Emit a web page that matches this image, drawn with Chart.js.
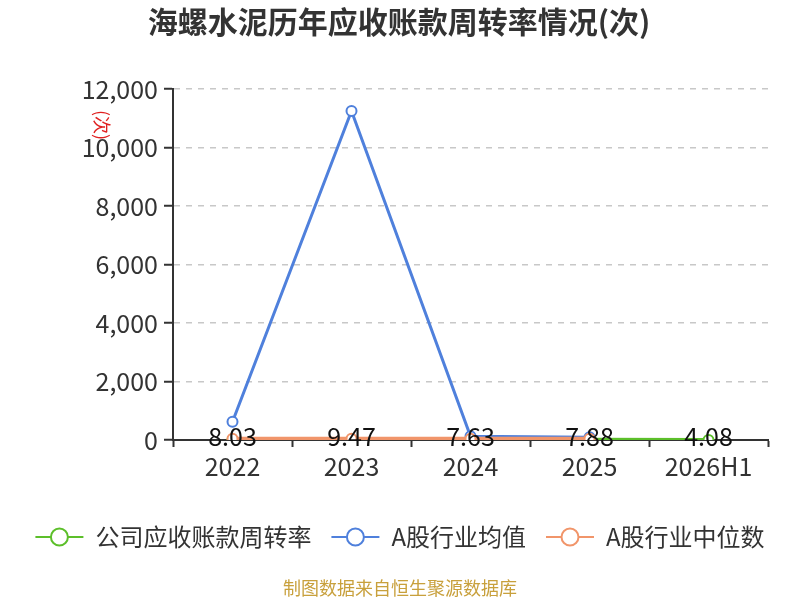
<!DOCTYPE html>
<html>
<head>
<meta charset="utf-8">
<script src="https://cdn.jsdelivr.net/npm/chart.js@4.4.0/dist/chart.umd.min.js"></script>
<style>
  html, body { margin: 0; padding: 0; background: #fff; }
  #wrap { width: 800px; height: 600px; }
</style>
</head>
<body>
<div id="wrap"><canvas id="chart" width="800" height="600"></canvas></div>
<script>
const years = ["2022", "2023", "2024", "2025", "2026H1"];
const companyTurnover = [8.03, 9.47, 7.63, 7.88, 4.08];
const industryAvg = [625, 11250, 130, 95, null];
const industryMedian = [45, 45, 42, 40, null];
const seriesNames = ["公司应收账款周转率", "A股行业均值", "A股行业中位数"];
const seriesColors = ["#5cbf2a", "#4f80dc", "#f1956a"];

const FONT = "'Noto Sans CJK SC', 'Noto Sans', sans-serif";

const decorPlugin = {
    id: "decor",
    afterDatasetsDraw(chart) {
        // value labels for the company series
        const ctx = chart.ctx;
        const meta = chart.getDatasetMeta(0);
        ctx.save();
        ctx.font = "25px " + FONT;
        ctx.fillStyle = "#111";
        ctx.textAlign = "center";
        ctx.textBaseline = "middle";
        meta.data.forEach((pt, i) => {
            ctx.fillText(companyTurnover[i].toFixed(2), pt.x, pt.y - 3);
        });
        ctx.restore();
    },
    afterDraw(chart) {
        const ctx = chart.ctx;
        ctx.save();

        // title
        ctx.font = "bold 30px " + FONT;
        ctx.fillStyle = "#333";
        ctx.textAlign = "center";
        ctx.textBaseline = "middle";
        ctx.fillText("海螺水泥历年应收账款周转率情况(次)", 399, 22);

        // unit on y axis
        ctx.save();
        ctx.translate(102, 125);
        ctx.rotate(Math.PI / 2);
        ctx.font = "18px " + FONT;
        ctx.fillStyle = "#e02020";
        ctx.fillText("(次)", 0, 0);
        ctx.restore();

        // legend
        ctx.font = "24px " + FONT;
        ctx.textAlign = "left";
        const symW = 48, gap = 12, itemGap = 20;
        const widths = seriesNames.map(n => symW + gap + ctx.measureText(n).width);
        const total = widths.reduce((a, b) => a + b, 0) + itemGap * (seriesNames.length - 1);
        let x = 400 - total / 2;
        const ly = 537;
        seriesNames.forEach((name, i) => {
            ctx.strokeStyle = seriesColors[i];
            ctx.lineWidth = 2;
            ctx.beginPath();
            ctx.moveTo(x, ly);
            ctx.lineTo(x + symW, ly);
            ctx.stroke();
            ctx.beginPath();
            ctx.arc(x + symW / 2, ly, 8.5, 0, Math.PI * 2);
            ctx.fillStyle = "#fff";
            ctx.fill();
            ctx.stroke();
            ctx.fillStyle = "#333";
            ctx.fillText(name, x + symW + gap, ly);
            x += widths[i] + itemGap;
        });

        // source note
        ctx.font = "18px " + FONT;
        ctx.fillStyle = "#c8a03c";
        ctx.textAlign = "center";
        ctx.fillText("制图数据来自恒生聚源数据库", 400, 588);

        ctx.restore();
    }
};

function lineSet(label, data, color, order, width) {
    return {
        label: label,
        data: data,
        borderColor: color,
        backgroundColor: "#fff",
        borderWidth: width,
        pointRadius: 5,
        pointBorderWidth: 2,
        pointBackgroundColor: "#fff",
        pointBorderColor: color,
        tension: 0,
        fill: false,
        order: order
    };
}

new Chart(document.getElementById("chart").getContext("2d"), {
    type: "line",
    data: {
        labels: years,
        datasets: [
            lineSet(seriesNames[0], companyTurnover, seriesColors[0], 3, 4),
            lineSet(seriesNames[1], industryAvg, seriesColors[1], 2, 3),
            lineSet(seriesNames[2], industryMedian, seriesColors[2], 1, 4)
        ]
    },
    options: {
        responsive: false,
        animation: false,
        devicePixelRatio: 1,
        layout: { padding: { top: 89, right: 32, left: 0, bottom: 0 } },
        plugins: {
            legend: { display: false },
            title: { display: false },
            tooltip: { enabled: false }
        },
        scales: {
            x: {
                offset: true,
                afterFit: s => { s.height = 160; },
                ticks: { color: "#333", font: { size: 25, family: FONT }, padding: 4 },
                grid: {
                    offset: true,
                    drawOnChartArea: false,
                    drawTicks: true,
                    tickLength: 7,
                    tickColor: "#333",
                    tickWidth: 2
                },
                border: { display: true, color: "#333", width: 2 }
            },
            y: {
                min: 0,
                max: 12000,
                afterFit: s => { s.width = 173; },
                ticks: { stepSize: 2000, color: "#333", font: { size: 25, family: FONT }, padding: 6 },
                grid: {
                    color: c => (c.tick && c.tick.value === 0 ? "rgba(0,0,0,0)" : "#c8c8c8"),
                    lineWidth: 1.5,
                    drawTicks: true,
                    tickLength: 9,
                    tickColor: "#333",
                    tickWidth: 2
                },
                border: { display: true, color: "#333", width: 2, dash: [6, 6] }
            }
        }
    },
    plugins: [decorPlugin]
});
</script>
</body>
</html>
